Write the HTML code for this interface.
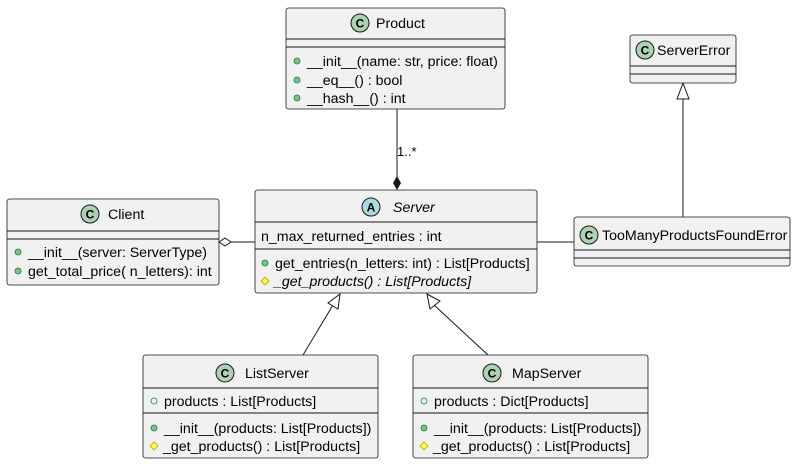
<!DOCTYPE html>
<html><head><meta charset="utf-8"><style>
body{margin:0;background:#fff}
svg{display:block;font-family:"Liberation Sans",sans-serif}
text{font-size:14.2px;fill:#000}
.b{fill:#F1F1F1;stroke:#181818;stroke-width:0.8}
.l{stroke:#181818;stroke-width:1;fill:none}
</style></head><body>
<svg width="799" height="464" viewBox="0 0 799 464">
<line class="l" x1="397" y1="109" x2="397" y2="178"/>
<polygon points="397,176 401,183 397,190 393,183" fill="#181818"/>
<text x="397" y="156" style="font-size:13px">1..*</text>
<line class="l" x1="683" y1="99" x2="683" y2="217"/>
<polygon points="683,83 677,99 689,99" fill="#fff" stroke="#181818"/>
<line class="l" x1="231" y1="242" x2="255" y2="242"/>
<polygon points="219,242 225,238 231,242 225,246" fill="#fff" stroke="#181818"/>
<line class="l" x1="537" y1="242" x2="574" y2="242"/>
<line class="l" x1="303" y1="355" x2="333" y2="305"/>
<polygon points="340,294 328,303 338,309" fill="#fff" stroke="#181818"/>
<line class="l" x1="488" y1="355" x2="434" y2="305"/>
<polygon points="427,294 430,309 440,301" fill="#fff" stroke="#181818"/>

<rect class="b" x="286" y="8" width="219" height="101" rx="2.5"/>
<circle cx="360" cy="23" r="9" fill="#ADD1B2" stroke="#181818"/>
<text x="360" y="27.5" text-anchor="middle" font-weight="bold" style="font-size:12px">C</text>
<text x="376" y="28">Product</text>
<line class="l" x1="286" y1="39" x2="505" y2="39"/><line class="l" x1="286" y1="47" x2="505" y2="47"/>
<circle cx="297" cy="61" r="3" fill="#84BE84" stroke="#038048" stroke-width="0.8"/><text x="307" y="66">__init__(name: str, price: float)</text>
<circle cx="297" cy="80" r="3" fill="#84BE84" stroke="#038048" stroke-width="0.8"/><text x="307" y="85">__eq__() : bool</text>
<circle cx="297" cy="98" r="3" fill="#84BE84" stroke="#038048" stroke-width="0.8"/><text x="307" y="103">__hash__() : int</text>

<rect class="b" x="630" y="35" width="106" height="48" rx="2.5"/>
<circle cx="645" cy="50" r="9" fill="#ADD1B2" stroke="#181818"/>
<text x="645" y="54.5" text-anchor="middle" font-weight="bold" style="font-size:12px">C</text>
<text x="657" y="55">ServerError</text>
<line class="l" x1="630" y1="66" x2="736" y2="66"/><line class="l" x1="630" y1="74" x2="736" y2="74"/>

<rect class="b" x="7" y="199" width="212" height="86" rx="2.5"/>
<circle cx="90" cy="214" r="9" fill="#ADD1B2" stroke="#181818"/>
<text x="90" y="218.5" text-anchor="middle" font-weight="bold" style="font-size:12px">C</text>
<text x="108" y="219">Client</text>
<line class="l" x1="7" y1="231" x2="219" y2="231"/><line class="l" x1="7" y1="239" x2="219" y2="239"/>
<circle cx="18" cy="252" r="3" fill="#84BE84" stroke="#038048" stroke-width="0.8"/><text x="28" y="257">__init__(server: ServerType)</text>
<circle cx="18" cy="271" r="3" fill="#84BE84" stroke="#038048" stroke-width="0.8"/><text x="28" y="276">get_total_price( n_letters): int</text>

<rect class="b" x="255" y="190" width="282" height="103" rx="2.5"/>
<circle cx="371" cy="207" r="9" fill="#A9DCDF" stroke="#181818"/>
<text x="371" y="211.5" text-anchor="middle" font-weight="bold" style="font-size:12px">A</text>
<text x="393" y="212" font-style="italic">Server</text>
<line class="l" x1="255" y1="222" x2="537" y2="222"/>
<text x="261" y="241">n_max_returned_entries : int</text>
<line class="l" x1="255" y1="249" x2="537" y2="249"/>
<circle cx="265" cy="263" r="3" fill="#84BE84" stroke="#038048" stroke-width="0.8"/><text x="275" y="268">get_entries(n_letters: int) : List[Products]</text>
<polygon points="265,277 269,281 265,285 261,281" fill="#FFFF44" stroke="#B8A000" stroke-width="0.8"/><text x="274" y="286" font-style="italic">_get_products() : List[Products]</text>

<rect class="b" x="574" y="217" width="216" height="49" rx="2.5"/>
<circle cx="589" cy="235" r="9" fill="#ADD1B2" stroke="#181818"/>
<text x="589" y="239.5" text-anchor="middle" font-weight="bold" style="font-size:12px">C</text>
<text x="602" y="240">TooManyProductsFoundError</text>
<line class="l" x1="574" y1="250" x2="790" y2="250"/><line class="l" x1="574" y1="258" x2="790" y2="258"/>

<rect class="b" x="143" y="355" width="235" height="103" rx="2.5"/>
<circle cx="225" cy="373" r="9" fill="#ADD1B2" stroke="#181818"/>
<text x="225" y="377.5" text-anchor="middle" font-weight="bold" style="font-size:12px">C</text>
<text x="245" y="378">ListServer</text>
<line class="l" x1="143" y1="388" x2="378" y2="388"/>
<circle cx="154" cy="401" r="3" fill="none" stroke="#038048" stroke-width="0.8"/><text x="164" y="406">products : List[Products]</text>
<line class="l" x1="143" y1="413" x2="378" y2="413"/>
<circle cx="154" cy="428" r="3" fill="#84BE84" stroke="#038048" stroke-width="0.8"/><text x="164" y="433">__init__(products: List[Products])</text>
<polygon points="154,442 158,446 154,450 150,446" fill="#FFFF44" stroke="#B8A000" stroke-width="0.8"/><text x="163" y="451">_get_products() : List[Products]</text>

<rect class="b" x="413" y="355" width="235" height="103" rx="2.5"/>
<circle cx="492" cy="373" r="9" fill="#ADD1B2" stroke="#181818"/>
<text x="492" y="377.5" text-anchor="middle" font-weight="bold" style="font-size:12px">C</text>
<text x="512" y="378">MapServer</text>
<line class="l" x1="413" y1="388" x2="648" y2="388"/>
<circle cx="424" cy="401" r="3" fill="none" stroke="#038048" stroke-width="0.8"/><text x="434" y="406">products : Dict[Products]</text>
<line class="l" x1="413" y1="413" x2="648" y2="413"/>
<circle cx="424" cy="428" r="3" fill="#84BE84" stroke="#038048" stroke-width="0.8"/><text x="434" y="433">__init__(products: List[Products])</text>
<polygon points="424,442 428,446 424,450 420,446" fill="#FFFF44" stroke="#B8A000" stroke-width="0.8"/><text x="433" y="451">_get_products() : List[Products]</text>
</svg>
</body></html>
